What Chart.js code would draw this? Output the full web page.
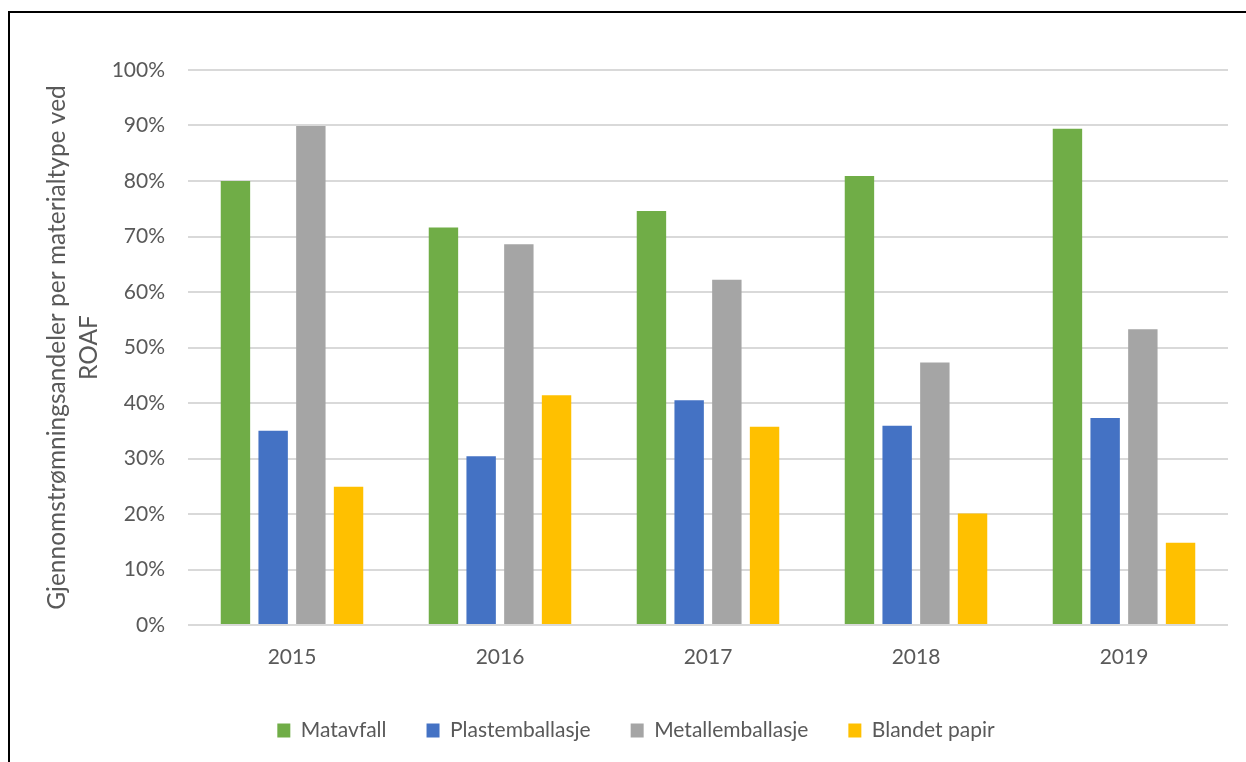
<!DOCTYPE html>
<html>
<head>
<meta charset="utf-8">
<script src="https://cdn.jsdelivr.net/npm/chart.js@4/dist/chart.umd.min.js"></script>
<style>
body{margin:0;background:#fff;overflow:hidden;}
#ramme{position:absolute;left:8px;top:11px;width:1300px;height:800px;border-left:2px solid #000;border-top:2px solid #000;}
#graf{position:absolute;left:0;top:0;}
</style>
</head>
<body>
<div id="ramme"></div>
<canvas id="graf" width="1246" height="762"></canvas>
<script>

const aar = ["2015","2016","2017","2018","2019"]

const matavfall = [80.0, 71.6, 74.6, 80.9, 89.4]
const plastemballasje = [35.0, 30.4, 40.5, 35.9, 37.3]
const metallemballasje = [89.9, 68.6, 62.2, 47.3, 53.3]
const blandetPapir = [24.9, 41.4, 35.7, 20.1, 14.8]

const yTicks = [0,10,20,30,40,50,60,70,80,90,100]

const tekst = "#595959"
const font = "Lato"

// flytter legenden litt til hoyre og opp
const legendFlytt = {
id:"legendFlytt",
afterLayout(chart){
const lg = chart.legend
lg.left += 22
lg.right += 22
lg.top -= 5
lg.bottom -= 5
}
}

new Chart(document.getElementById("graf"),{
type:"bar",
data:{
labels:aar,
datasets:[
{label:"Matavfall",data:matavfall,backgroundColor:"#70ad47"},
{label:"Plastemballasje",data:plastemballasje,backgroundColor:"#4472c4"},
{label:"Metallemballasje",data:metallemballasje,backgroundColor:"#a5a5a5"},
{label:"Blandet papir",data:blandetPapir,backgroundColor:"#ffc000"}
]
},
options:{
responsive:false,
animation:false,
devicePixelRatio:1,
categoryPercentage:0.725,
barPercentage:0.78,
layout:{padding:{left:0,right:18,top:70,bottom:6}},
plugins:{
tooltip:{enabled:false},
legend:{
position:"bottom",
labels:{
color:tekst,
font:{family:font,size:21},
boxWidth:13,
boxHeight:14,
padding:40
}
}
},
scales:{
x:{
grid:{display:false,drawTicks:false},
border:{display:false},
ticks:{color:tekst,font:{family:font,size:21},padding:20},
afterFit(s){ s.height = 60 }
},
y:{
min:0,
max:100,
afterBuildTicks(s){ s.ticks = yTicks.map(v => ({value:v})) },
grid:{color:"#d9d9d9",lineWidth:2,drawTicks:false},
border:{display:false},
ticks:{color:tekst,font:{family:font,size:21},padding:23,callback:v => v + "%"},
title:{
display:true,
text:["Gjennomstrømningsandeler per materialtype ved","ROAF"],
color:tekst,
font:{family:font,size:24.5,lineHeight:1.3},
padding:{top:41,bottom:0}
},
afterFit(s){ s.width = 188 }
}
}
},
plugins:[legendFlytt]
})

</script>
</body>
</html>
